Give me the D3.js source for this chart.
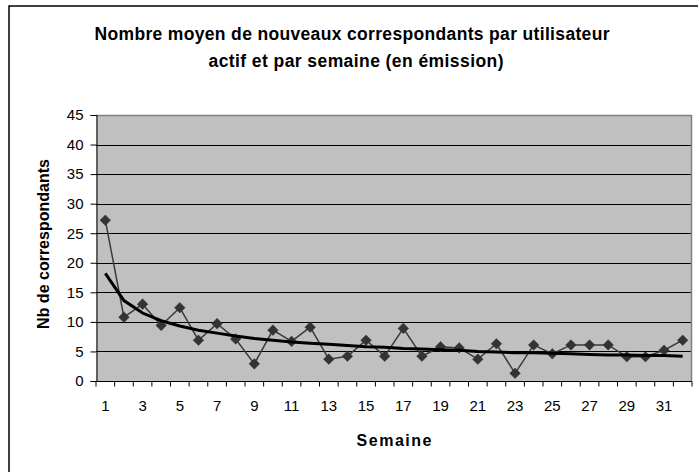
<!DOCTYPE html>
<html>
<head>
<meta charset="utf-8">
<script src="https://cdn.jsdelivr.net/npm/d3@7"></script>
<style>
  html, body { margin: 0; padding: 0; background: #fff; }
  svg { display: block; }
  text { font-family: "Liberation Sans", Arial, sans-serif; }
</style>
</head>
<body>
<svg id="chart" width="698" height="472"></svg>
<script>
const weeks = d3.range(1, 33);
const values = [27.2, 10.8, 13.0, 9.4, 12.4, 6.9, 9.7, 7.1, 2.9, 8.6, 6.7, 9.1, 3.7, 4.2, 6.9, 4.2,
                8.9, 4.2, 5.8, 5.6, 3.7, 6.3, 1.3, 6.1, 4.6, 6.1, 6.1, 6.1, 4.1, 4.1, 5.2, 6.9];
const trend = [18.2, 13.6, 11.5, 10.2, 9.3, 8.6, 8.1, 7.6, 7.2, 6.9, 6.6, 6.4, 6.2, 6.0, 5.8, 5.7,
               5.5, 5.4, 5.3, 5.2, 5.0, 4.9, 4.8, 4.8, 4.7, 4.6, 4.5, 4.4, 4.4, 4.3, 4.3, 4.2];
const yTicks = [0, 5, 10, 15, 20, 25, 30, 35, 40, 45];
const xTickLabels = weeks.filter(w => w % 2 === 1);
const titleLines = ["Nombre moyen de nouveaux correspondants par utilisateur", "actif et par semaine (en émission)"];
const xTitle = "Semaine";
const yTitle = "Nb de correspondants";

const svg = d3.select("#chart");
const m = {left: 96, right: 692, top: 115, bottom: 381};

// outer frame (extends beyond the visible crop on right/bottom)
svg.append("rect").attr("x", 9).attr("y", 6).attr("width", 720).attr("height", 500)
  .attr("fill", "none").attr("stroke", "#000").attr("stroke-width", 1.5);

const x = d3.scaleBand().domain(weeks).range([m.left, m.right]).padding(0);
const y = d3.scaleLinear().domain([0, 45]).range([m.bottom, m.top]);
const cx = d => x(d) + x.bandwidth() / 2;

// plot background
svg.append("rect").attr("x", m.left).attr("y", m.top)
  .attr("width", m.right - m.left).attr("height", m.bottom - m.top)
  .attr("fill", "#C0C0C0");

// gridlines
svg.append("g").selectAll("line").data(yTicks.filter(t => t > 0 && t < 45)).join("line")
  .attr("x1", m.left).attr("x2", m.right)
  .attr("y1", d => Math.round(y(d)) + 0.5).attr("y2", d => Math.round(y(d)) + 0.5)
  .attr("stroke", "#000").attr("stroke-width", 1);

// plot border top/right gray
svg.append("path")
  .attr("d", `M${m.left},${m.top + 0.5}H${m.right - 0.5}V${m.bottom}`)
  .attr("fill", "none").attr("stroke", "#808080").attr("stroke-width", 1.5);

// y axis
const yAxis = d3.axisLeft(y).tickValues(yTicks).tickSize(6).tickPadding(7);
const gy = svg.append("g").attr("transform", `translate(${m.left + 0.5},0)`).call(yAxis);
gy.select(".domain").attr("stroke", "#000");
gy.selectAll(".tick line").attr("stroke", "#000");
gy.selectAll(".tick text").attr("font-size", 15).attr("fill", "#000")
  .attr("font-family", "'Liberation Sans', Arial, sans-serif");

// x axis: ticks at category boundaries
const gx = svg.append("g").attr("transform", `translate(0,${m.bottom + 0.5})`);
gx.append("line").attr("x1", m.left).attr("x2", m.right).attr("stroke", "#000");
gx.selectAll("line.tk").data(d3.range(0, 33)).join("line").attr("class", "tk")
  .attr("x1", i => m.left + i * x.step()).attr("x2", i => m.left + i * x.step())
  .attr("y1", 0).attr("y2", 5).attr("stroke", "#000");
const xAxis = d3.axisBottom(x).tickValues(xTickLabels).tickSize(0).tickPadding(19);
const gxl = svg.append("g").attr("transform", `translate(0,${m.bottom})`).call(xAxis);
gxl.select(".domain").remove();
gxl.selectAll(".tick text").attr("font-size", 15).attr("fill", "#000")
  .attr("font-family", "'Liberation Sans', Arial, sans-serif");

// data line
const line = d3.line().x((d, i) => cx(weeks[i])).y(d => y(d));
svg.append("path").datum(values).attr("d", line)
  .attr("fill", "none").attr("stroke", "#3a3a3a").attr("stroke-width", 1.5);

// square diamond markers
const squareDiamond = {
  draw(ctx, size) {
    const r = Math.sqrt(size / 2);
    ctx.moveTo(0, -r); ctx.lineTo(r, 0); ctx.lineTo(0, r); ctx.lineTo(-r, 0); ctx.closePath();
  }
};
const sym = d3.symbol().type(squareDiamond).size(56);
svg.append("g").selectAll("path").data(values).join("path")
  .attr("transform", (d, i) => `translate(${cx(weeks[i])},${y(d)})`)
  .attr("d", sym).attr("fill", "#333333").attr("stroke", "#333333").attr("stroke-width", 0.5);

// trendline
svg.append("path").datum(trend).attr("d", line)
  .attr("fill", "none").attr("stroke", "#000").attr("stroke-width", 3);

// title
const tg = svg.append("g").attr("font-weight", "bold").attr("fill", "#000").attr("text-anchor", "middle");
tg.append("text").attr("x", 352).attr("y", 40).attr("font-size", 17.5)
  .attr("textLength", 515).attr("lengthAdjust", "spacing").text(titleLines[0]);
tg.append("text").attr("x", 356).attr("y", 67).attr("font-size", 17.5)
  .attr("textLength", 295).attr("lengthAdjust", "spacing").text(titleLines[1]);

// axis titles
svg.append("text").attr("x", (m.left + m.right) / 2).attr("y", 446)
  .attr("text-anchor", "middle").attr("font-weight", "bold").attr("font-size", 16)
  .attr("textLength", 75).attr("lengthAdjust", "spacing").text(xTitle);
svg.append("text").attr("transform", `translate(49,244) rotate(-90)`)
  .attr("text-anchor", "middle").attr("font-weight", "bold").attr("font-size", 16)
  .text(yTitle);
</script>
</body>
</html>
